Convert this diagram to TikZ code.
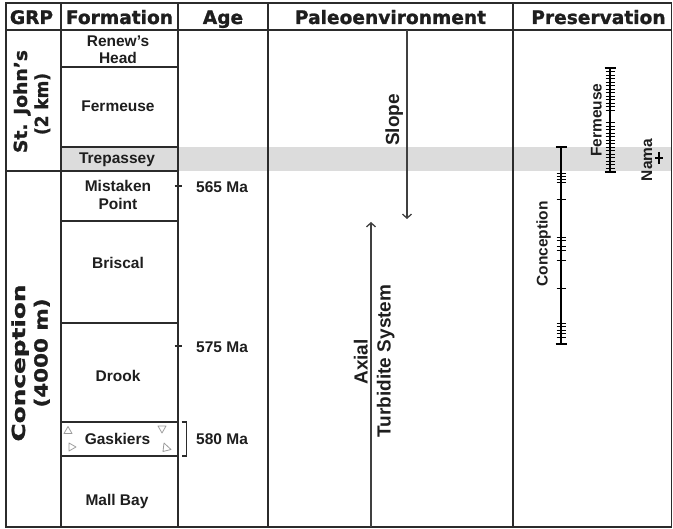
\documentclass[tikz,border=0pt]{standalone}
\usepackage{fontspec}
\setmainfont{Liberation Sans}
\newfontfamily\hdrfont{DejaVu Sans}[BoldFeatures={FakeBold=1.2}]
\usetikzlibrary{arrows.meta}
\definecolor{ln}{HTML}{2B2B2B}
\definecolor{band}{HTML}{DCDCDC}
\definecolor{txt}{HTML}{1E1E1E}
\definecolor{tri}{HTML}{9A9A9A}
\newcommand{\hw}[2]{\resizebox{#1}{\height}{#2}}
\begin{document}
\begin{tikzpicture}[x=1pt,y=-1pt,
  gridline/.style={draw=ln,line width=1.8pt},
  boxline/.style={draw=ln,line width=2.2pt},
  tickline/.style={draw=ln,line width=1.2pt},
  hdr/.style={font=\hdrfont\bfseries\fontsize{18.6}{22}\selectfont,text=txt,inner sep=0pt,anchor=base},
  grp/.style={font=\hdrfont\bfseries\fontsize{18}{22}\selectfont,text=txt,inner sep=0pt,anchor=base,rotate=90},
  fm/.style={font=\bfseries\fontsize{15.5}{17}\selectfont,text=txt,inner sep=0pt,anchor=base},
  agel/.style={font=\bfseries\fontsize{15.5}{17}\selectfont,text=txt,inner sep=0pt,anchor=base west},
  envl/.style={font=\bfseries\fontsize{19}{22}\selectfont,text=txt,inner sep=0pt,anchor=base,rotate=90},
  presl/.style={font=\bfseries\fontsize{15.5}{17}\selectfont,text=txt,inner sep=0pt,anchor=base,rotate=90},
  arr/.style={draw=ln!90,line width=1.3pt,-{Straight Barb[length=4pt,width=9pt]}},
  barline/.style={draw=black,line width=2.8pt},
  endcap/.style={draw=black,line width=1.5pt},
  btick/.style={draw=black,line width=0.9pt},
  gtri/.style={draw=tri,line width=0.8pt,line join=round}
]
\useasboundingbox (0,0) rectangle (673,529);

% grey band (Trepassey level)
\fill[band] (62,147) rectangle (671,171);

% frame and columns
\draw[gridline] (6,3) rectangle (671.5,527);
\draw[gridline] (6,30) -- (671.5,30);
\foreach \xx in {61,178,268,513} \draw[gridline] (\xx,3) -- (\xx,527);
\draw[gridline] (6,171) -- (178,171);
\foreach \yy in {67,147,221,323} \draw[gridline] (61,\yy) -- (178,\yy);
\draw[boxline] (61,422) -- (178,422);
\draw[boxline] (61,456) -- (178,456);

% bracket and age ticks
\draw[tickline] (181.5,422) -- (186.5,422) -- (186.5,456) -- (181.5,456);
\draw[tickline] (174.5,186) -- (181.5,186);
\draw[tickline] (174.5,346) -- (181.5,346);

% headers
\node[hdr] (hGRP) at (31.5,24) {GRP};
\node[hdr] (hFm) at (119.5,24) {Formation};
\node[hdr] (hAge) at (223,24) {Age};
\node[hdr] (hEnv) at (390.5,24) {Paleoenvironment};
\node[hdr] (hPres) at (598.5,24) {Preservation};

% group labels
\node[grp] (gSJ) at (27,101.5) {\hw{103pt}{St. John’s}};
\node[grp] (gSJb) at (48,104) {\hw{62pt}{(2 km)}};
\node[grp] (gCo) at (25,363) {\hw{157pt}{Conception}};
\node[grp] (gCob) at (47.5,353) {\hw{109pt}{(4000 m)}};

% formations
\node[fm] (fRen) at (118,47) {Renew’s};
\node[fm] (fRen2) at (118,64) {Head};
\node[fm] (fFer) at (118,112) {Fermeuse};
\node[fm] (fTre) at (117,164) {Trepassey};
\node[fm] (fMis) at (118,192) {Mistaken};
\node[fm] (fMis2) at (118,209.5) {Point};
\node[fm] (fBri) at (118,268.5) {Briscal};
\node[fm] (fDro) at (118,381.5) {Drook};
\node[fm] (fGas) at (117.5,445) {Gaskiers};
\node[fm] (fMal) at (117,506) {Mall Bay};

% Gaskiers triangles
\draw[gtri] (64,433.5) -- (72,433.5) -- (68,426.5) -- cycle;
\draw[gtri] (69,443) -- (69,451) -- (76,447) -- cycle;
\draw[gtri] (158,426) -- (166,426) -- (162,433) -- cycle;
\draw[gtri] (164,443) -- (171,449.5) -- (163,451.5) -- cycle;

% ages
\node[agel] (a565) at (196,192.5) {565 Ma};
\node[agel] (a575) at (196,352.5) {575 Ma};
\node[agel] (a580) at (196,445) {580 Ma};

% paleoenvironment
\coordinate (slTop) at (407,30);
\coordinate (slEnd) at (407,219);
\draw[arr] (slTop) -- (slEnd);
\coordinate (axBot) at (371,527);
\coordinate (axTop) at (371,222);
\draw[arr] (axBot) -- (axTop);
\node[envl] (eSl) at (399,120) {Slope};
\node[envl] (eAx) at (367.5,362) {Axial};
\node[envl] (eTu) at (390.5,361) {Turbidite System};

% preservation: Conception
\coordinate (cT) at (561,147);
\coordinate (cB) at (561,344);
\draw[barline] (cT) -- (cB);
\draw[endcap] (555.5,147) -- (566.5,147);
\draw[endcap] (555.5,344) -- (566.5,344);
\foreach \yy in {173,176.5,179.5,182.5,199.5,237,240.5,246,250,260,288,323,326.5,330,333.5,337}
  \draw[btick] (556.5,\yy) -- (565.5,\yy);
\node[presl] (pCo) at (547.5,244) {Conception};

% preservation: Fermeuse
\coordinate (fT) at (610,68);
\coordinate (fB) at (610,172);
\draw[barline] (fT) -- (fB);
\draw[endcap] (604.5,68) -- (615.5,68);
\draw[endcap] (604.5,172) -- (615.5,172);
\foreach \yy in {71.5,75,...,112} \draw[btick] (605.5,\yy) -- (614.5,\yy);
\foreach \yy in {122.5,126,...,169} \draw[btick] (605.5,\yy) -- (614.5,\yy);
\node[presl] (pFe) at (601.5,120) {Fermeuse};

% preservation: Nama
\coordinate (nT) at (659,152);
\coordinate (nB) at (659,164);
\draw[draw=black,line width=1.6pt] (nT) -- (nB);
\draw[draw=black,line width=1.2pt] (655,158) -- (663,158);
\node[presl] (pNa) at (652,160) {Nama};
\end{tikzpicture}
\end{document}
